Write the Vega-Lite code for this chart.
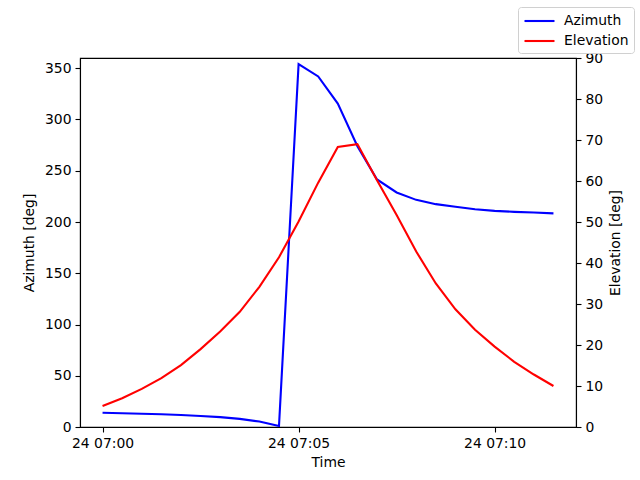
{
  "$schema": "https://vega.github.io/schema/vega-lite/v6.json",
  "width": 496,
  "height": 369,
  "autosize": {"type": "none"},
  "padding": {"left": 80, "top": 58, "right": 64, "bottom": 53},
  "background": "white",
  "config": {
    "font": "DejaVu Sans",
    "view": {"stroke": "black", "strokeWidth": 1.1},
    "axis": {
      "grid": false,
      "domainColor": "black",
      "domainWidth": 1.1,
      "tickColor": "black",
      "tickWidth": 1.1,
      "tickSize": 5,
      "labelColor": "black",
      "labelFont": "DejaVu Sans",
      "labelFontSize": 13.9,
      "labelPadding": 4,
      "titleFont": "DejaVu Sans",
      "titleFontSize": 13.9,
      "titleFontWeight": "normal",
      "titleColor": "black"
    },
    "legend": {
      "labelFont": "DejaVu Sans",
      "labelFontSize": 13.9,
      "labelColor": "black"
    }
  },
  "data": {
    "values": [
      {"time": "2024-01-24T07:00:00Z", "azimuth": 13.9, "elevation": 5.1},
      {"time": "2024-01-24T07:00:30Z", "azimuth": 13.4, "elevation": 7.0},
      {"time": "2024-01-24T07:01:00Z", "azimuth": 12.9, "elevation": 9.3},
      {"time": "2024-01-24T07:01:30Z", "azimuth": 12.4, "elevation": 11.9},
      {"time": "2024-01-24T07:02:00Z", "azimuth": 11.7, "elevation": 15.1},
      {"time": "2024-01-24T07:02:30Z", "azimuth": 10.8, "elevation": 19.0},
      {"time": "2024-01-24T07:03:00Z", "azimuth": 9.6, "elevation": 23.3},
      {"time": "2024-01-24T07:03:30Z", "azimuth": 7.9, "elevation": 28.1},
      {"time": "2024-01-24T07:04:00Z", "azimuth": 5.3, "elevation": 34.2},
      {"time": "2024-01-24T07:04:30Z", "azimuth": 1.0, "elevation": 41.4},
      {"time": "2024-01-24T07:05:00Z", "azimuth": 354.0, "elevation": 50.1},
      {"time": "2024-01-24T07:05:30Z", "azimuth": 342.0, "elevation": 59.6},
      {"time": "2024-01-24T07:06:00Z", "azimuth": 315.5, "elevation": 68.3},
      {"time": "2024-01-24T07:06:30Z", "azimuth": 274.0, "elevation": 69.0},
      {"time": "2024-01-24T07:07:00Z", "azimuth": 241.5, "elevation": 60.2},
      {"time": "2024-01-24T07:07:30Z", "azimuth": 228.8, "elevation": 51.7},
      {"time": "2024-01-24T07:08:00Z", "azimuth": 221.6, "elevation": 42.8},
      {"time": "2024-01-24T07:08:30Z", "azimuth": 217.4, "elevation": 35.0},
      {"time": "2024-01-24T07:09:00Z", "azimuth": 214.8, "elevation": 28.7},
      {"time": "2024-01-24T07:09:30Z", "azimuth": 212.5, "elevation": 23.7},
      {"time": "2024-01-24T07:10:00Z", "azimuth": 210.9, "elevation": 19.6},
      {"time": "2024-01-24T07:10:30Z", "azimuth": 209.9, "elevation": 15.9},
      {"time": "2024-01-24T07:11:00Z", "azimuth": 209.2, "elevation": 12.8},
      {"time": "2024-01-24T07:11:30Z", "azimuth": 208.4, "elevation": 10.0}
    ]
  },
  "layer": [
    {
      "mark": {"type": "line", "strokeWidth": 2.1, "clip": true},
      "encoding": {
        "x": {
          "field": "time",
          "type": "temporal",
          "scale": {
            "type": "utc",
            "domain": [
              {"year": 2024, "month": 1, "date": 24, "hours": 6, "minutes": 59, "seconds": 25, "milliseconds": 500, "utc": true},
              {"year": 2024, "month": 1, "date": 24, "hours": 7, "minutes": 12, "seconds": 4, "milliseconds": 500, "utc": true}
            ]
          },
          "axis": {
            "title": "Time",
            "format": "%d %H:%M",
            "titlePadding": 6,
            "values": [
              {"year": 2024, "month": 1, "date": 24, "hours": 7, "minutes": 0, "utc": true},
              {"year": 2024, "month": 1, "date": 24, "hours": 7, "minutes": 5, "utc": true},
              {"year": 2024, "month": 1, "date": 24, "hours": 7, "minutes": 10, "utc": true}
            ]
          }
        },
        "y": {
          "field": "azimuth",
          "type": "quantitative",
          "scale": {"domain": [0, 360], "nice": false, "zero": false},
          "axis": {
            "orient": "left",
            "title": "Azimuth [deg]",
            "values": [0, 50, 100, 150, 200, 250, 300, 350],
            "titlePadding": 8
          }
        },
        "color": {
          "datum": "Azimuth",
          "type": "nominal",
          "scale": {"domain": ["Azimuth", "Elevation"], "range": ["#0000ff", "#ff0000"]},
          "legend": {
            "title": null,
            "orient": "none",
            "legendX": 438,
            "legendY": -51,
            "symbolType": "M -1 0 H 3",
            "symbolSize": 225,
            "symbolStrokeWidth": 2.1,
            "rowPadding": 4,
            "padding": 5,
            "labelOffset": 23,
            "strokeColor": "#d0d0d0",
            "fillColor": "white",
            "cornerRadius": 3
          }
        }
      }
    },
    {
      "mark": {"type": "line", "strokeWidth": 2.1, "clip": true},
      "encoding": {
        "x": {"field": "time", "type": "temporal"},
        "y": {
          "field": "elevation",
          "type": "quantitative",
          "scale": {"domain": [0, 90], "nice": false, "zero": false},
          "axis": {
            "orient": "right",
            "title": "Elevation [deg]",
            "titleAngle": 270,
            "values": [0, 10, 20, 30, 40, 50, 60, 70, 80, 90],
            "titlePadding": 20
          }
        },
        "color": {"datum": "Elevation", "type": "nominal"}
      }
    }
  ],
  "resolve": {"scale": {"y": "independent"}}
}
